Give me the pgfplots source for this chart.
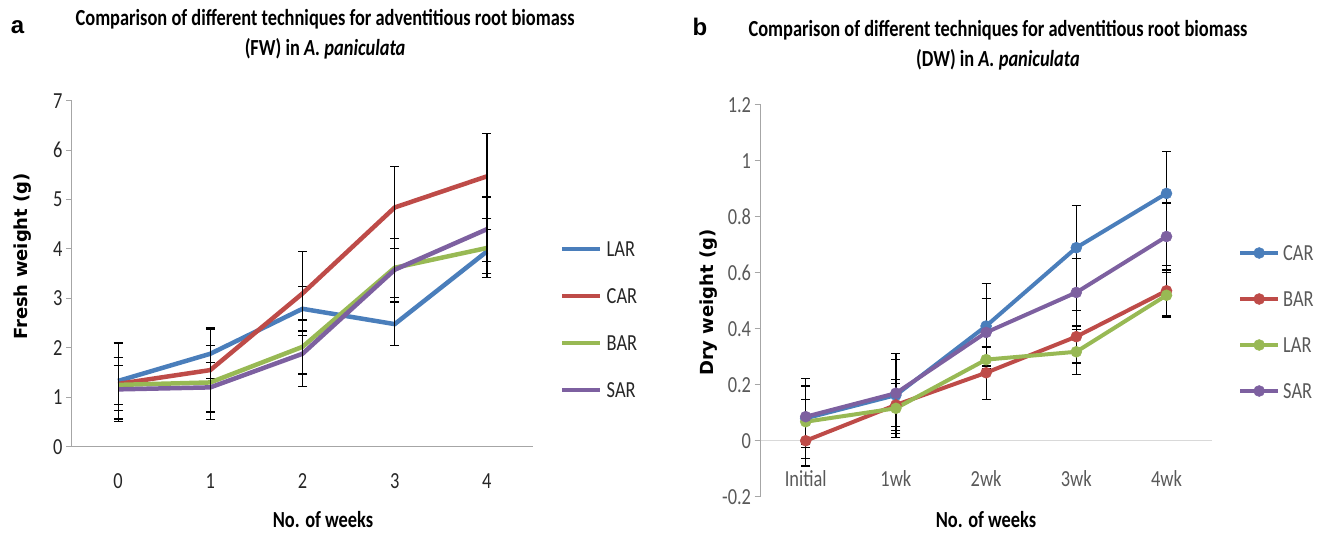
\documentclass[border=0pt]{standalone}
\usepackage{fontspec}
\setmainfont{Carlito}[FakeStretch=0.8]
\newfontfamily\dejavu{DejaVu Sans}
\newfontfamily\arialf{Liberation Sans}
\usepackage{pgfplots}
\pgfplotsset{compat=1.18}
\definecolor{cblue}{HTML}{4A7EBB}
\definecolor{cred}{HTML}{BE4B48}
\definecolor{cgreen}{HTML}{98B954}
\definecolor{cpurple}{HTML}{7D60A0}
\definecolor{axgray}{HTML}{A6A6A6}
\definecolor{txgray}{HTML}{595959}

\pgfplotstableread{
x LAR LARe CAR CARe BAR BARe SAR SARe
0 1.33 0.77 1.27 0.53 1.25 0.40 1.16 0.65
1 1.88 0.50 1.55 0.85 1.30 0.75 1.20 0.50
2 2.79 0.45 3.10 0.85 2.02 0.55 1.88 0.67
3 2.48 0.43 4.84 0.83 3.62 0.60 3.58 0.64
4 3.95 0.45 5.47 0.86 4.02 0.60 4.40 0.65
}\fwdata

\pgfplotstableread{
x CAR CARe BAR BARe LAR LARe SAR SARe
0 0.080 0.143 0.000 0.090 0.068 0.080 0.086 0.110
1 0.163 0.150 0.128 0.090 0.116 0.090 0.170 0.120
2 0.410 0.153 0.243 0.095 0.290 0.045 0.387 0.120
3 0.690 0.150 0.372 0.094 0.318 0.080 0.530 0.120
4 0.884 0.150 0.536 0.090 0.520 0.080 0.730 0.120
}\dwdata

\pgfplotsset{
  myax/.style={
    scale only axis,
    axis x line*=bottom, axis y line*=left,
    axis line style={-, draw=axgray, line width=1pt},
    xmin=-0.5, xmax=4.5, xtick={0,1,2,3,4},
    x tick style={draw=none},
    tick align=outside,
    y tick style={draw=axgray, line width=1pt},
    major tick length=6pt,
    /pgf/number format/assume math mode=true,
    tick label style={font=\fontsize{23}{27}\selectfont},
    xticklabel style={anchor=center},
    legend cell align=left,
    clip=false,
  },
  ebar/.style={
    error bars/.cd, y dir=both, y explicit,
    error bar style={black, line width=1.2pt},
    error mark options={rotate=90, mark size=4.5pt, black, line width=1.2pt},
  },
}

\begin{document}
\begin{tikzpicture}
\path[use as bounding box] (0pt,0pt) rectangle (1318pt,533pt);

\node[font=\arialf\bfseries\fontsize{24}{28}\selectfont] at (17.5pt,506pt) {a};
\node[font=\arialf\bfseries\fontsize{24}{28}\selectfont] at (700pt,506pt) {b};

% ---------------- left panel
\begin{axis}[myax,
  at={(72pt,86.3pt)}, anchor=south west,
  width=461pt, height=346pt,
  ymin=0, ymax=7, ytick={0,1,...,7},
  xticklabel style={yshift=-28.3pt},
  tick label style={text=black!85},
  title={Comparison of different techniques for adventitious root biomass\\(FW) in \textit{A. paniculata}},
  title style={at={(0.549,1.1754)}, anchor=center, align=center, font=\bfseries\fontsize{23}{30}\selectfont},
  xlabel={No. of weeks},
  xlabel style={at={(0.5445,-0.2118)}, anchor=center, font=\bfseries\fontsize{23}{27}\selectfont},
  ylabel={Fresh weight (g)},
  ylabel style={at={(-0.1074,0.5497)}, anchor=center, font=\dejavu\bfseries\fontsize{18}{22}\selectfont},
  legend image code/.code={\draw[#1] (0pt,0pt) -- (38pt,0pt);},
  legend style={draw=none, fill=none, at={(1.0586,0.3676)}, anchor=west,
    inner sep=0pt, column sep=4pt, row sep=32pt,
    font=\fontsize{23}{27}\selectfont, text=black!85,
    nodes={inner sep=0pt, text height=15pt, text depth=0pt}},
]
\addplot[cblue, line width=4.5pt, ebar] table[x=x, y=LAR, y error=LARe] {\fwdata};
\addlegendentry{LAR}
\addplot[cred, line width=4.5pt, ebar] table[x=x, y=CAR, y error=CARe] {\fwdata};
\addlegendentry{CAR}
\addplot[cgreen, line width=4.5pt, ebar] table[x=x, y=BAR, y error=BARe] {\fwdata};
\addlegendentry{BAR}
\addplot[cpurple, line width=4.5pt, ebar] table[x=x, y=SAR, y error=SARe] {\fwdata};
\addlegendentry{SAR}
\end{axis}

% ---------------- right panel
\begin{axis}[myax,
  at={(760.6pt,36.3pt)}, anchor=south west,
  width=451pt, height=391.7pt,
  ymin=-0.2, ymax=1.2,
  ytick={-0.2,0,0.2,0.4,0.6,0.8,1,1.2},
  yticklabels={-0.2,0,0.2,0.4,0.6,0.8,1,1.2},
  x axis line style={draw=none},
  xticklabels={Initial,1wk,2wk,3wk,4wk},
  xticklabel style={yshift=23.7pt},
  tick label style={text=txgray},
  extra y ticks={0},
  extra y tick labels={},
  extra y tick style={grid=major, major grid style={draw=black!15, line width=1pt}},
  title={Comparison of different techniques for adventitious root biomass\\(DW) in \textit{A. paniculata}},
  title style={at={(0.5264,1.1385)}, anchor=center, align=center, font=\bfseries\fontsize{23}{30}\selectfont},
  xlabel={No. of weeks},
  xlabel style={at={(0.4998,-0.0595)}, anchor=center, font=\bfseries\fontsize{23}{27}\selectfont},
  ylabel={Dry weight (g)},
  ylabel style={at={(-0.1144,0.4958)}, anchor=center, font=\dejavu\bfseries\fontsize{18}{22}\selectfont},
  legend image code/.code={\draw[mark repeat=2, mark phase=2, #1] plot coordinates {(0pt,0pt) (19pt,0pt) (38pt,0pt)};},
  legend style={draw=none, fill=none, at={(1.0585,0.446)}, anchor=west,
    inner sep=0pt, column sep=3pt, row sep=31pt,
    font=\fontsize{23}{27}\selectfont, text=txgray,
    nodes={inner sep=0pt, text height=15pt, text depth=0pt}},
]
\addplot[cblue, line width=4pt, mark=*, mark size=5.5pt, mark options={fill=cblue, draw=cblue, line width=0.5pt}, ebar] table[x=x, y=CAR, y error=CARe] {\dwdata};
\addlegendentry{CAR}
\addplot[cred, line width=4pt, mark=*, mark size=5.5pt, mark options={fill=cred, draw=cred, line width=0.5pt}, ebar] table[x=x, y=BAR, y error=BARe] {\dwdata};
\addlegendentry{BAR}
\addplot[cgreen, line width=4pt, mark=*, mark size=5.5pt, mark options={fill=cgreen, draw=cgreen, line width=0.5pt}, ebar] table[x=x, y=LAR, y error=LARe] {\dwdata};
\addlegendentry{LAR}
\addplot[cpurple, line width=4pt, mark=*, mark size=5.5pt, mark options={fill=cpurple, draw=cpurple, line width=0.5pt}, ebar] table[x=x, y=SAR, y error=SARe] {\dwdata};
\addlegendentry{SAR}
\end{axis}
\end{tikzpicture}
\end{document}
